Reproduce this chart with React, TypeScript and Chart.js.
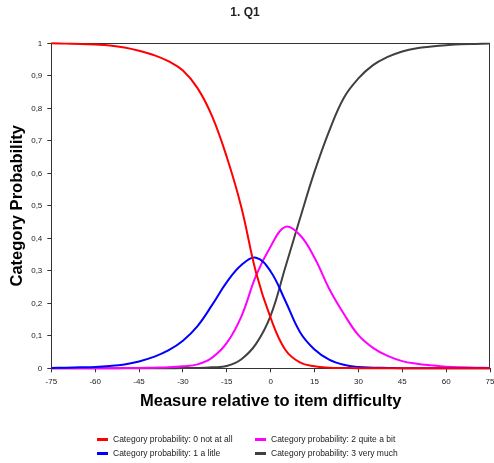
import React, { useEffect, useRef } from 'react';
import { Chart, registerables } from 'chart.js';

Chart.register(...registerables);

const chartTitle = '1. Q1';
const xTitle = 'Measure relative to item difficulty';
const yTitle = 'Category Probability';

const measures = [-75, -70, -65, -60, -55, -50, -45, -40, -35, -30, -25, -20, -15, -10, -5, 0, 5, 10, 15, 20, 25, 30, 35, 40, 45, 50, 55, 60, 65, 70, 75];

const cat0 = [1.0, 0.999, 0.998, 0.996, 0.993, 0.987, 0.977, 0.964, 0.945, 0.916, 0.862, 0.775, 0.65, 0.495, 0.295, 0.155, 0.057, 0.018, 0.006, 0.002, 0.001, 0, 0, 0, 0, 0, 0, 0, 0, 0, 0];
const cat1 = [0.001, 0.002, 0.003, 0.004, 0.007, 0.012, 0.021, 0.035, 0.055, 0.085, 0.13, 0.195, 0.265, 0.318, 0.34, 0.298, 0.208, 0.112, 0.058, 0.027, 0.011, 0.004, 0.002, 0.001, 0, 0, 0, 0, 0, 0, 0];
const cat2 = [0, 0, 0, 0, 0, 0.001, 0.001, 0.002, 0.003, 0.006, 0.012, 0.033, 0.078, 0.16, 0.285, 0.375, 0.435, 0.41, 0.34, 0.245, 0.168, 0.102, 0.063, 0.038, 0.022, 0.014, 0.009, 0.005, 0.003, 0.002, 0.001];
const cat3 = [0, 0, 0, 0, 0, 0, 0, 0, 0, 0.001, 0.001, 0.003, 0.007, 0.028, 0.075, 0.162, 0.31, 0.46, 0.605, 0.73, 0.832, 0.892, 0.933, 0.958, 0.975, 0.985, 0.99, 0.994, 0.997, 0.998, 0.999];

const seriesLabels = [
  'Category probability: 0 not at all',
  'Category probability: 1 a litle',
  'Category probability: 2 quite a bit',
  'Category probability: 3 very much',
];
const seriesColors = ['#ff0000', '#0000ff', '#ff00ff', '#404040'];

const xTicks = [-75, -60, -45, -30, -15, 0, 15, 30, 45, 60, 75];
const yTicks = [0, 0.1, 0.2, 0.3, 0.4, 0.5, 0.6, 0.7, 0.8, 0.9, 1];
const yTickLabels = ['0', '0,1', '0,2', '0,3', '0,4', '0,5', '0,6', '0,7', '0,8', '0,9', '1'];

const FONT = '"Liberation Sans", Arial, sans-serif';
const AXIS = '#333333';
const legendCols = [97, 255];
const legendRows = [439, 453];

const boxPlugin = {
  id: 'plotBox',
  beforeDatasetsDraw(chart: any) {
    const { ctx, chartArea } = chart;
    const { left, top, right, bottom } = chartArea;
    ctx.save();
    ctx.strokeStyle = AXIS;
    ctx.lineWidth = 1;
    ctx.beginPath();
    const t = Math.round(top) + 0.5;
    const r = Math.round(right) - 0.5;
    ctx.moveTo(left, t);
    ctx.lineTo(r, t);
    ctx.lineTo(r, bottom);
    ctx.stroke();
    ctx.restore();
  },
};

export default function App() {
  const ref = useRef<HTMLCanvasElement>(null);

  useEffect(() => {
    document.body.style.margin = '0';
    const series = [cat0, cat1, cat2, cat3];
    const chart = new Chart(ref.current as HTMLCanvasElement, {
      type: 'line',
      data: {
        datasets: series.map((vals, i) => ({
          label: seriesLabels[i],
          data: measures.map((x, j) => ({ x, y: vals[j] })),
          borderColor: seriesColors[i],
          backgroundColor: seriesColors[i],
          borderWidth: 2,
          pointRadius: 0,
          tension: 0.4,
          clip: false as any,
          fill: false,
        })),
      },
      options: {
        responsive: false,
        animation: false,
        events: [],
        layout: { padding: { left: 0, right: 4, top: 0, bottom: 0 } },
        plugins: {
          legend: { display: false },
          tooltip: { enabled: false },
          title: {
            display: true,
            text: chartTitle,
            color: '#222',
            font: { family: FONT, size: 12, weight: 'bold' },
            padding: { top: 5, bottom: 23.9 },
          },
        },
        scales: {
          x: {
            type: 'linear',
            min: -75,
            max: 75,
            afterBuildTicks: (s: any) => {
              s.ticks = xTicks.map((v) => ({ value: v }));
            },
            afterFit: (s: any) => {
              s.height = 94.7;
              s.paddingLeft = 0;
              s.paddingRight = 0;
            },
            ticks: {
              font: { family: FONT, size: 8 },
              color: '#222',
              padding: 5,
              maxRotation: 0,
              autoSkip: false,
              callback: (v: any) => String(v),
            },
            grid: { drawOnChartArea: false, tickLength: 4, color: AXIS },
            border: { color: AXIS, width: 1 },
            title: {
              display: true,
              text: xTitle,
              color: '#000',
              font: { family: FONT, size: 16.5, weight: 'bold' },
              padding: { top: 0, bottom: 52 },
            },
          },
          y: {
            type: 'linear',
            min: 0,
            max: 1,
            afterBuildTicks: (s: any) => {
              s.ticks = yTicks.map((v) => ({ value: v }));
            },
            afterFit: (s: any) => {
              s.width = 51.3;
            },
            ticks: {
              font: { family: FONT, size: 8 },
              color: '#222',
              padding: 5,
              autoSkip: false,
              callback: (_v: any, i: number) => yTickLabels[i],
            },
            grid: { drawOnChartArea: false, tickLength: 4, color: AXIS },
            border: { color: AXIS, width: 1 },
            title: {
              display: true,
              text: yTitle,
              color: '#000',
              font: { family: FONT, size: 16.5, weight: 'bold' },
              padding: { top: 7.6, bottom: 0 },
            },
          },
        },
      } as any,
      plugins: [boxPlugin],
    });
    return () => chart.destroy();
  }, []);

  return (
    <div style={{ position: 'absolute', left: 0, top: 0, width: 494, height: 463, background: '#fff' }}>
      <canvas ref={ref} width={494} height={463} style={{ display: 'block' }} />
      {seriesLabels.map((label, i) => (
        <div
          key={label}
          style={{
            position: 'absolute',
            left: legendCols[Math.floor(i / 2)],
            top: legendRows[i % 2] - 6,
            height: 12,
            display: 'flex',
            alignItems: 'center',
            fontFamily: FONT,
            fontSize: 8.5,
            color: '#222',
            whiteSpace: 'nowrap',
          }}
        >
          <span style={{ display: 'inline-block', width: 11, height: 3, background: seriesColors[i], marginRight: 5 }} />
          {label}
        </div>
      ))}
    </div>
  );
}
